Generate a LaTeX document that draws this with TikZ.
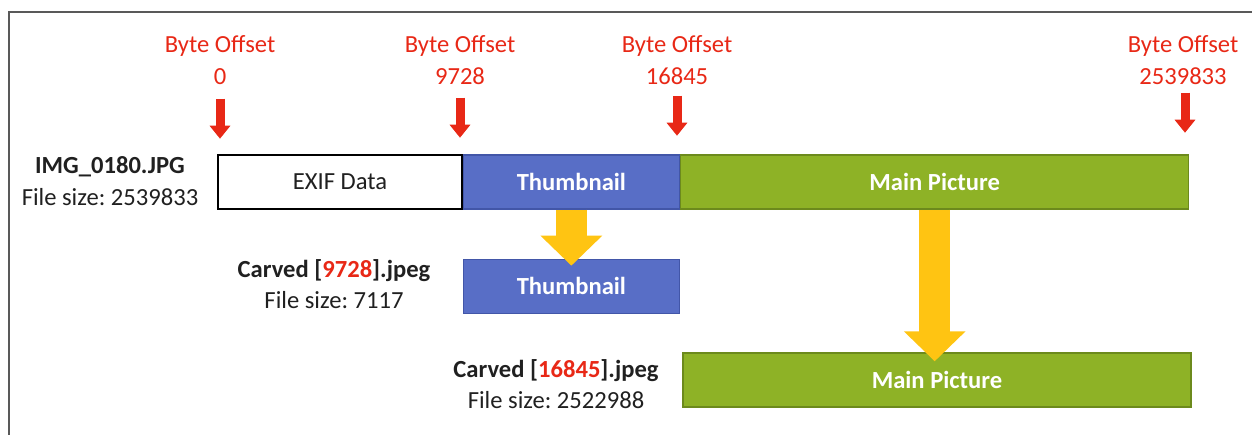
\documentclass[tikz,border=0pt]{standalone}
\usepackage{fontspec}
\setmainfont{Carlito}
\usepackage{xcolor}
\usetikzlibrary{arrows.meta,positioning}
\frenchspacing

\definecolor{offsetred}{RGB}{232,40,22}
\definecolor{thumbblue}{RGB}{88,110,198}
\definecolor{thumbedge}{RGB}{66,86,168}
\definecolor{picgreen}{RGB}{142,178,38}
\definecolor{picedge}{RGB}{108,138,28}
\definecolor{carvegold}{RGB}{255,196,18}
\definecolor{inkgray}{RGB}{32,32,32}

\newcommand{\labelsize}{\fontsize{14}{18}\selectfont}

\tikzset{
    segment/.style={rectangle, minimum height=1.08cm, inner sep=0pt, line width=0.8pt},
    exifbox/.style={segment, draw=black, fill=white, text=inkgray, minimum width=4.88cm},
    thumbbox/.style={segment, draw=thumbedge, fill=thumbblue, text=white, font=\labelsize\bfseries, minimum width=4.32cm},
    picbox/.style={segment, draw=picedge, fill=picgreen, text=white, font=\labelsize\bfseries, minimum width=10.16cm},
    offlabel/.style={align=center, inner sep=0pt, text=offsetred},
    filelabel/.style={align=center, inner sep=0pt, text=inkgray},
    offarrow/.style={draw=offsetred, line width=0.18cm, -{Triangle[width=0.4cm, length=0.26cm]}},
    carvearrow/.style={draw=carvegold, line width=0.62cm, -{Triangle[width=1.2cm, length=0.6cm]}}
}

\begin{document}
\begin{tikzpicture}[x=0.02cm, y=-0.02cm, font=\labelsize]

    \useasboundingbox (0,0) rectangle (1252,435);
    \draw[gray!70!black, line width=0.9pt] (9,435) -- (9,12) -- (1252,12);

    % original file, split in its three parts
    \node[exifbox] (exif) at (340,182) {EXIF Data};
    \node[thumbbox, right=0pt of exif] (thumb) {Thumbnail};
    \node[picbox, right=0pt of thumb] (main) {Main Picture};

    \node[filelabel] (orig) at (110,181) {\textbf{IMG\_0180.JPG}\\File size: 2539833};

    % byte offsets
    \node[offlabel] (off0) at (220,60) {Byte Offset\\0};
    \node[offlabel] (off1) at (460,60) {Byte Offset\\9728};
    \node[offlabel] (off2) at (677,60) {Byte Offset\\16845};
    \node[offlabel] (off3) at (1183,60) {Byte Offset\\2539833};

    \draw[offarrow] (off0.south) ++(0,14) -- ++(0,40);
    \draw[offarrow] (off1.south) ++(0,13) -- ++(0,40);
    \draw[offarrow] (off2.south) ++(0,11) -- ++(0,40);
    \draw[offarrow] (off3.south) ++(2,8) -- ++(0,40);

    % carved files
    \node[thumbbox, below=0.98cm of thumb] (cthumb) {Thumbnail};
    \node[picbox] (cmain) at (937,380) {Main Picture};

    \node[filelabel] (cthumblbl) at (334,284) {\textbf{Carved [\textcolor{offsetred}{9728}].jpeg}\\File size: 7117};
    \node[filelabel] (cmainlbl) at (556,384) {\textbf{Carved [\textcolor{offsetred}{16845}].jpeg}\\File size: 2522988};

    \draw[carvearrow, shorten >=-0.14cm] (thumb.south) -- (cthumb.north);
    \draw[carvearrow, shorten >=-0.18cm] (main.south) -- (main.south |- cmain.north);

\end{tikzpicture}
\end{document}
